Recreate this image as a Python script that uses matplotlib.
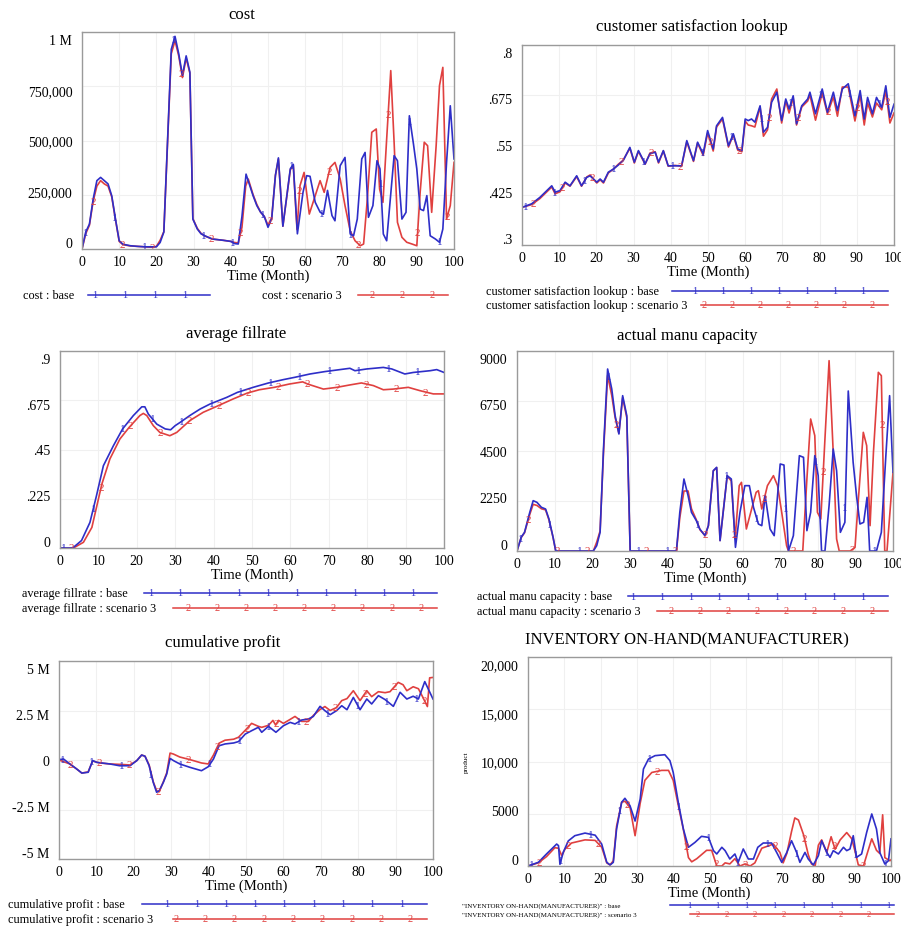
import numpy as np
import matplotlib.pyplot as plt
from matplotlib.lines import Line2D
import matplotlib.transforms as mtransforms

plt.rcParams['font.family'] = ['Liberation Serif', 'DejaVu Serif']

W, H = 901, 929
BLUE = '#2e2ec8'
RED = '#e0403f'

# ---- cost (thousands) ----
cost_t_base = [0, 1, 2, 3, 4, 5, 6, 7, 8, 9, 10, 11, 13, 15, 17, 19, 20, 21, 22, 23,
               24, 25, 26, 27, 28, 29, 29.8, 31, 32, 33, 35, 38, 40, 41, 42, 43, 44.1, 46, 47, 48,
               49, 50, 51, 52, 52.8, 54, 56, 56.8, 57.9, 59.4, 60.4, 61.3, 62.7, 64, 64.9, 66, 67.2, 68, 69.4, 70.7,
               72.1, 73, 74, 75.2, 76.1, 77, 78.2, 79.3, 80.1, 81, 81.9, 82.8, 83.9, 84.8, 86, 87.1, 88, 89.1, 90, 90.9,
               91.8, 92.7, 93.6, 95, 96.1, 97, 98, 99, 100]
cost_base = [0, 78, 115, 230, 315, 330, 315, 300, 245, 138, 38, 22, 15, 12, 10, 10, 10, 30, 78, 500,
             920, 980, 900, 800, 890, 815, 138, 92, 70, 61, 46, 40, 35, 25, 23, 150, 345, 245, 200, 170,
             150, 100, 140, 340, 420, 105, 370, 390, 70, 260, 338, 335, 215, 170, 160, 270, 154, 130, 384, 422,
             69, 61, 138, 415, 445, 146, 200, 407, 369, 69, 38, 215, 430, 407, 138, 169, 614, 484, 369, 184,
             177, 246, 61, 46, 31, 92, 399, 660, 415]
cost_t_scen = [0, 1, 2, 3, 4, 5, 6, 7, 8, 9, 10, 11, 13, 15, 17, 19, 20, 21, 22, 23,
               24, 25, 26, 27, 28, 29, 29.8, 31, 32, 33, 35, 38, 40, 41, 42, 43, 44, 44.7, 46, 47,
               48, 49, 50, 51, 52, 52.8, 54, 56, 56.8, 57.8, 58.6, 59.7, 61.1, 62.7, 64, 65.1, 66.7, 68, 69.4, 70.7,
               72.1, 73.4, 74.8, 75.7, 76.7, 77.9, 79.1, 80, 80.9, 81.9, 83, 83.9, 84.8, 86, 87.3, 88.7, 90, 90.9, 92, 92.9,
               94, 95.2, 96.1, 97, 98, 99, 100]
cost_scen = [0, 70, 110, 220, 290, 315, 300, 290, 240, 135, 35, 20, 14, 12, 10, 8, 12, 40, 80, 490,
             900, 960, 890, 790, 880, 810, 140, 95, 72, 60, 46, 40, 35, 30, 28, 100, 290, 322, 250, 205,
             170, 150, 110, 145, 340, 415, 105, 365, 385, 90, 292, 353, 161, 246, 315, 261, 376, 399, 323, 200,
             84, 38, 15, 23, 230, 538, 553, 276, 215, 507, 822, 492, 123, 54, 31, 23, 15, 261, 492, 476,
             169, 476, 753, 837, 138, 200, 399]

# ---- customer satisfaction lookup ----
cs_t = [0, 2.6, 4.8, 8, 8.9, 10.2, 11.6, 12.9, 14.7, 16, 17.4, 18.3, 20.1, 21, 21.9, 23.2, 24.6, 25.9, 27.2, 29,
        30.2, 31.3, 33.1, 34.4, 35.8, 36.7, 38, 39.3, 41.1, 42.9, 44.3, 46.1, 47.2, 48.7, 49.9, 51.4, 52.3, 53.9, 55.5, 56.8,
        58, 59.1, 60, 60.8, 61.7, 62.6, 64, 64.9, 66, 67.1, 68.5, 69.8, 70.9, 71.8, 72.9, 73.8, 75.2, 76.8, 77.4, 78.9,
        80.7, 82.1, 83.7, 84.8, 86.1, 87.7, 89.5, 90.9, 92, 92.9, 94.2, 95.3, 96.7, 97.8, 98.9, 100]
cs_base = [.394, .403, .419, .448, .432, .436, .457, .448, .473, .448, .469, .473, .457, .465, .457, .482, .49, .5, .511, .544,
           .507, .536, .503, .528, .532, .507, .536, .498, .498, .498, .561, .511, .557, .528, .586, .54, .598, .619, .548, .578,
           .54, .536, .615, .611, .615, .607, .648, .582, .594, .657, .682, .611, .665, .64, .673, .603, .648, .665, .682, .628,
           .69, .632, .682, .636, .69, .703, .623, .686, .615, .669, .628, .669, .644, .698, .619, .652]
cs_scen = [.394, .401, .416, .445, .428, .433, .455, .447, .471, .447, .47, .475, .455, .463, .455, .48, .49, .502, .512, .542,
           .505, .534, .502, .53, .533, .505, .535, .497, .499, .497, .558, .509, .555, .524, .58, .535, .595, .615, .545, .575,
           .537, .533, .61, .6, .598, .595, .645, .572, .588, .665, .69, .605, .66, .63, .668, .6, .645, .66, .675, .612,
           .68, .628, .67, .622, .695, .695, .61, .675, .6, .655, .62, .655, .638, .685, .605, .63]

# ---- average fillrate ----
fr_t_base = [0, 3, 3.5, 5.6, 7.8, 9.5, 11.3, 13.9, 16.3, 19.1, 21.3, 22.1, 23, 25.2, 27.4, 28.8, 30, 31.3, 33.8, 36.5,
             39.1, 43.4, 46.2, 50.3, 54.3, 58.1, 61.2, 65.1, 69, 72.9, 75.5, 76.8, 79.9, 84.2, 86.4, 89.8, 92, 96.4, 98.1, 100]
fr_base = [0, 0, .003, .034, .117, .239, .376, .467, .544, .605, .645, .645, .612, .566, .544, .54, .559, .574, .605, .635,
           .658, .688, .711, .734, .754, .769, .78, .795, .806, .815, .821, .81, .818, .825, .818, .795, .802, .81, .815, .802]
fr_t_scen = [0, 3.5, 6.1, 8.3, 10.9, 13, 15.6, 18, 20.8, 21.7, 22.6, 24.3, 26, 28.6, 30.4, 33.8, 37.3, 40.8, 45.1, 48.8,
             51.9, 55.8, 59.7, 63.2, 64.5, 68.6, 72.1, 75.5, 78.5, 81.6, 84.2, 86.8, 90.7, 93.7, 97.2, 100]
fr_scen = [0, 0, .026, .094, .292, .407, .498, .551, .605, .615, .605, .559, .528, .513, .528, .582, .62, .647, .681, .708,
           .723, .734, .749, .759, .749, .726, .734, .745, .754, .742, .723, .726, .734, .719, .704, .704]

# ---- actual manu capacity ----
mc_t_base = [0, 1.1, 2, 3.4, 4.3, 5.3, 6.5, 7.6, 8.5, 9.6, 10.3, 20.3, 21.2, 22.1, 23, 24.1, 25.2, 26.1, 27.1, 28.1,
             29.2, 30.1, 42.4, 43.3, 44.4, 45.5, 46.4, 47.7, 48.6, 50, 50.9, 52.2, 53.1, 54, 55.9, 57, 58.1, 59.3, 60.6, 61.8,
             62.9, 64.2, 65.1, 66, 67.3, 68.4, 70, 71, 72.2, 73.5, 75.1, 76.2, 77.1, 78.1, 79.2, 80.1, 81, 81.9, 83, 84.1,
             85, 86, 87.2, 88.1, 89.4, 90.3, 91.2, 92.2, 93.1, 93.8, 95.6, 96.9, 98.1, 99.1, 100]
mc_base = [0, 615, 840, 1740, 2265, 2190, 1965, 1890, 1440, 615, 0, 0, 240, 840, 4590, 8190, 7290, 6090, 5265, 6990,
           6090, 0, 0, 1740, 3240, 2490, 1740, 1365, 990, 690, 1140, 3615, 3765, 465, 3390, 3240, 165, 1740, 2940, 2940,
           1965, 1215, 1140, 2490, 990, 690, 3915, 3870, 0, 690, 4290, 4215, 915, 1740, 4290, 3390, 0, 0, 2040, 4590,
           3615, 840, 1290, 7200, 3990, 2490, 1215, 1290, 2415, 0, 0, 840, 4290, 6990, 3540]
mc_t_scen = [0, 1.1, 2, 3.4, 4.3, 5.3, 6.5, 7.6, 8.5, 9.6, 10.3, 20.3, 21.2, 22.1, 23, 24.1, 25.2, 26.1, 27.1, 28.1,
             29.2, 30.1, 42.4, 43.3, 44.4, 45.5, 46.4, 47.7, 48.7, 50, 50.9, 52.2, 53.1, 54, 55.9, 57, 58, 59.1, 59.7, 61,
             62.4, 63.6, 64.2, 65.1, 66.6, 68.2, 69.3, 70.4, 71.7, 72.2, 76, 77.1, 78.1, 79.2, 79.9, 80.8, 81.9, 83, 84.1, 85,
             85.7, 88.6, 89.9, 90.8, 92.1, 93, 93.9, 94.8, 96.1, 96.9, 97.8, 98.4, 100]
mc_scen = [0, 600, 820, 1650, 2100, 2050, 1900, 1850, 1400, 600, 0, 0, 400, 900, 4400, 7900, 7000, 6000, 5300, 6900,
           6000, 0, 0, 1500, 2700, 2700, 1900, 1400, 950, 700, 1140, 3600, 3750, 470, 3380, 3150, 540, 2940, 3090, 990,
           1890, 2640, 2715, 1890, 2940, 3390, 2940, 1740, 240, 0, 0, 3240, 5940, 5190, 1740, 1440, 5040, 8565, 4440, 540,
           0, 0, 165, 2340, 5340, 4740, 1140, 4440, 8040, 7890, 0, 0, 3540]

# ---- cumulative profit (millions) ----
cp_t_base = [0, 1.2, 2.9, 4.7, 6.1, 7.8, 9, 10.1, 13.6, 16.2, 19, 20.8, 22.1, 23, 24.1, 25.2, 26.1, 26.8, 27.9, 28.8,
             29.7, 30.6, 32.3, 35, 38.1, 39.9, 41.3, 42.8, 44.4, 46.7, 48, 49.8, 51.5, 53.3, 54.2, 56, 58, 60, 61.8, 63.1,
             64.9, 66.7, 68, 69.8, 71.1, 72.5, 74.2, 75.6, 77, 78.7, 80.5, 82.3, 83.6, 85.4, 87.2, 89.4, 91.2, 93, 94.7, 96.1,
             97.8, 100]
cp_base = [.02, .05, -.2, -.45, -.66, -.62, -.03, -.12, -.2, -.29, -.29, -.03, .25, .19, -.29, -1.13, -1.63, -1.55, -1.13, -.71,
           .08, -.03, -.2, -.37, -.54, -.34, .05, .72, .81, .86, .93, 1.31, 1.48, 1.65, 1.4, 1.7, 1.4, 1.73, 1.9, 1.82,
           2.02, 2.07, 2.2, 2.71, 2.49, 2.29, 2.49, 2.74, 2.54, 3.16, 2.54, 3.08, 2.83, 3.25, 3.05, 2.71, 3.42, 3.08, 3.22, 3.08,
           3.96, 3.08]
cp_t_scen = [0, 2.9, 4.7, 6.1, 7.8, 9, 10.9, 13.6, 16.2, 19, 20.8, 22.1, 23, 24.1, 25.2, 26.1, 26.8, 27.9, 28.8, 29.7,
             30.6, 32.3, 35, 38.1, 39.9, 41.3, 42.8, 44.4, 46.7, 48, 49.8, 51.5, 53.3, 54.2, 56, 57.2, 57.9, 58.7, 60, 61.8,
             63.1, 64.9, 66.7, 68, 69.8, 71.1, 72.5, 74.2, 75.6, 77, 78.7, 80.5, 82.3, 83.6, 85.4, 87.2, 88.5, 90.7, 92, 93,
             94.7, 96.1, 97.2, 98.5, 99.1, 100]
cp_scen = [0, -.2, -.45, -.66, -.6, -.05, -.15, -.2, -.22, -.25, -.03, .25, .19, -.25, -1.1, -1.55, -1.6, -1.1, -.65, .35,
           .3, .15, .02, -.15, -.2, .25, .85, 1.0, 1.05, 1.15, 1.5, 1.85, 1.7, 1.65, 1.75, 2.0, 1.77, 2.0, 1.85, 2.05,
           2.2, 1.95, 1.95, 2.25, 2.55, 2.7, 2.5, 2.65, 3.0, 3.1, 3.5, 3.0, 3.5, 3.2, 3.45, 3.4, 3.45, 3.92, 3.8, 3.5,
           3.7, 3.6, 3.2, 2.7, 4.15, 4.17]

# ---- INVENTORY ON-HAND(MANUFACTURER) ----
inv_t_base = [0, 2.85, 5.1, 7.9, 8.4, 8.8, 9.7, 11.1, 12.9, 15.7, 18.5, 20.3, 21.7, 22.6, 23.5, 24.4, 25.8, 26.7, 28.1, 29.5,
              30.9, 31.8, 33.2, 35, 37.7, 39.1, 40, 41.4, 42.8, 44.2, 46, 47.8, 49.7, 51.1, 52, 53.4, 54.3, 55.6, 57, 57.9,
              59.3, 60.7, 62.1, 63.3, 64.8, 67.1, 68.5, 69.9, 71.3, 72.6, 74, 74.9, 76.3, 77.2, 78.6, 80, 80.9, 82.3, 83.2, 84.1,
              85.5, 86.9, 87.8, 88.7, 89.6, 90.5, 91.9, 93.3, 94.7, 96, 96.9, 98.3, 99.3, 100]
inv_base = [0, 350, 1150, 2100, 1950, 160, 1300, 2400, 2900, 3150, 2950, 2100, 350, 100, 350, 3540, 6100, 6480, 5770, 4300,
            6400, 9280, 10240, 10560, 10650, 10080, 8960, 6100, 3540, 1790, 2260, 2840, 2740, 1470, 1150, 1790, 1470, 670, 1150, 350,
            1630, 670, 670, 1790, 2200, 2200, 1300, 350, 1300, 2420, 1300, 350, 1300, 670, 100, 990, 2420, 1300, 830, 1470,
            1150, 1790, 1470, 1630, 2900, 830, 1150, 3220, 4980, 3540, 1300, 190, 510, 2600]
inv_t_scen = [0, 2.85, 5.1, 7.4, 8.4, 9.3, 10.2, 12, 15.7, 18.5, 20.3, 21.7, 22.6, 23.5, 24.4, 25.8, 26.7, 28.1, 29.5, 30.9,
              32.2, 34.1, 36.8, 38.7, 40, 41.4, 42.8, 44.2, 45.1, 46.5, 49.2, 50.6, 52, 53.4, 54.3, 55.6, 57, 58.4, 59.8, 61.2,
              62.5, 64.4, 67.6, 69.4, 70.3, 71.3, 72.6, 73.5, 74.5, 75.9, 77.2, 78.1, 79.1, 80, 80.9, 82.3, 83.5, 84.6, 86, 87.8,
              89.2, 90.1, 91, 92.4, 93.8, 94.7, 96, 96.9, 97.7, 98.3, 99.7, 100]
inv_scen = [0, 300, 900, 1750, 1700, 990, 1630, 2200, 2500, 2450, 1800, 300, 100, 500, 3800, 6100, 6200, 5600, 2900, 6000,
            8200, 8950, 9150, 9150, 8200, 5800, 3500, 800, 400, 700, 1500, 1500, 0, 0, 300, 200, 700, 0, 200, 0,
            300, 1700, 2100, 1300, 300, 1200, 3300, 4600, 4400, 3000, 1100, 200, 0, 2000, 2500, 1300, 2800, 1600, 2500, 3200,
            2600, 1400, 100, 0, 1600, 2600, 1500, 1200, 4900, 800, 500, 600]

xticks = list(range(0, 101, 10))

fig = plt.figure(figsize=(W / 100, H / 100), dpi=100)


def fy(y):
    return 1 - y / H


def panel(box, title, tpos, yticks, ylabels, tb, vb, tr, vr, tfs=12):
    l, t, r, b = box
    ax = fig.add_axes([l / W, 1 - b / H, (r - l) / W, (b - t) / H])
    ax.plot(tr, vr, color=RED, lw=1.2)
    ax.plot(tb, vb, color=BLUE, lw=1.2)
    ax.set_xlim(0, 100)
    ax.set_ylim(yticks[0], yticks[-1])
    ax.set_xticks(xticks)
    ax.set_xticklabels([str(x) for x in xticks])
    ax.set_yticks(yticks)
    ax.set_yticklabels(ylabels)
    ax.tick_params(length=0, labelsize=10)
    ax.tick_params(axis='y', pad=7)
    ax.tick_params(axis='x', pad=4)
    ax.grid(True, color='#f0f0f0', lw=0.8)
    ax.set_axisbelow(True)
    for s in ax.spines.values():
        s.set_color('#9a9a9a')
        s.set_linewidth(1)
    # vensim keeps the end labels inside the box
    n = len(yticks)
    for i, lab in enumerate(ax.get_yticklabels()):
        dy = 0.07 * (1 - 2 * i / (n - 1))
        off = mtransforms.ScaledTranslation(0, dy, fig.dpi_scale_trans)
        lab.set_transform(lab.get_transform() + off)
    # line id markers
    step = 29.5 / ((r - l) / 100)
    for tm in np.arange(3, 100, step):
        ax.text(tm, np.interp(tm, tr, vr), '2', color=RED, fontsize=8,
                ha='center', va='center', clip_on=True)
    for tm in np.arange(1, 100, step):
        ax.text(tm, np.interp(tm, tb, vb), '1', color=BLUE, fontsize=8,
                ha='center', va='center', clip_on=True)
    fig.text(tpos[0] / W, fy(tpos[1]), title, ha='center', va='center', fontsize=tfs)
    fig.text((l + r) / 2 / W, fy(b + 26), 'Time (Month)', ha='center', va='center', fontsize=10.5)
    return ax


def legend_row(xt, y, text, x0, x1, m0, sp, ch, color, fs=8.8, mfs=7.5):
    fig.text(xt / W, fy(y), text, ha='left', va='center', fontsize=fs)
    fig.add_artist(Line2D([x0 / W, x1 / W], [fy(y), fy(y)], color=color, lw=1.1))
    for xm in np.arange(m0, x1 - 4, sp):
        fig.text(xm / W, fy(y), ch, color=color, fontsize=mfs, ha='center', va='center')


# cost
panel((82, 33, 454, 250), 'cost', (242, 15), [0, 250, 500, 750, 1000],
      ['0', '250,000', '500,000', '750,000', '1 M'],
      cost_t_base, cost_base, cost_t_scen, cost_scen)
legend_row(23, 296, 'cost : base', 88, 210, 95, 30, '1', BLUE)
legend_row(262, 296, 'cost : scenario 3', 358, 448, 372, 30, '2', RED)

# customer satisfaction lookup
panel((522, 46, 894, 246), 'customer satisfaction lookup', (692, 27),
      [.3, .425, .55, .675, .8], ['.3', '.425', '.55', '.675', '.8'],
      cs_t, cs_base, cs_t, cs_scen)
legend_row(486, 292, 'customer satisfaction lookup : base', 672, 888, 695, 28, '1', BLUE)
legend_row(486, 306, 'customer satisfaction lookup : scenario 3', 701, 888, 704, 28, '2', RED)

# average fillrate
panel((60, 352, 444, 549), 'average fillrate', (236, 334),
      [0, .225, .45, .675, .9], ['0', '.225', '.45', '.675', '.9'],
      fr_t_base, fr_base, fr_t_scen, fr_scen)
legend_row(22, 594, 'average fillrate : base', 144, 437, 151, 29.1, '1', BLUE)
legend_row(22, 609, 'average fillrate : scenario 3', 173, 437, 188, 29.1, '2', RED)

# actual manu capacity
panel((517, 352, 893, 552), 'actual manu capacity', (687, 336),
      [0, 2250, 4500, 6750, 9000], ['0', '2250', '4500', '6750', '9000'],
      mc_t_base, mc_base, mc_t_scen, mc_scen)
legend_row(477, 597, 'actual manu capacity : base', 628, 888, 633, 28.7, '1', BLUE)
legend_row(477, 612, 'actual manu capacity : scenario 3', 657, 888, 671, 28.7, '2', RED)

# cumulative profit
panel((59, 662, 433, 860), 'cumulative profit', (223, 643),
      [-5, -2.5, 0, 2.5, 5], ['-5 M', '-2.5 M', '0', '2.5 M', '5 M'],
      cp_t_base, cp_base, cp_t_scen, cp_scen)
legend_row(8, 905, 'cumulative profit : base', 142, 427, 167, 29.3, '1', BLUE)
legend_row(8, 920, 'cumulative profit : scenario 3', 173, 427, 176, 29.3, '2', RED)

# inventory
panel((528, 658, 891, 867), 'INVENTORY ON-HAND(MANUFACTURER)', (687, 640),
      [0, 5000, 10000, 15000, 20000], ['0', '5000', '10,000', '15,000', '20,000'],
      inv_t_base, inv_base, inv_t_scen, inv_scen)
fig.text(466 / W, fy(762), 'product', rotation=90, ha='center', va='center', fontsize=5)
legend_row(462, 906, '"INVENTORY ON-HAND(MANUFACTURER)" : base', 670, 894, 689, 28.5, '1', BLUE, fs=5, mfs=6)
legend_row(462, 915, '"INVENTORY ON-HAND(MANUFACTURER)" : scenario 3', 690, 894, 698, 28.5, '2', RED, fs=5, mfs=6)

fig.savefig('out.png', dpi=100)
